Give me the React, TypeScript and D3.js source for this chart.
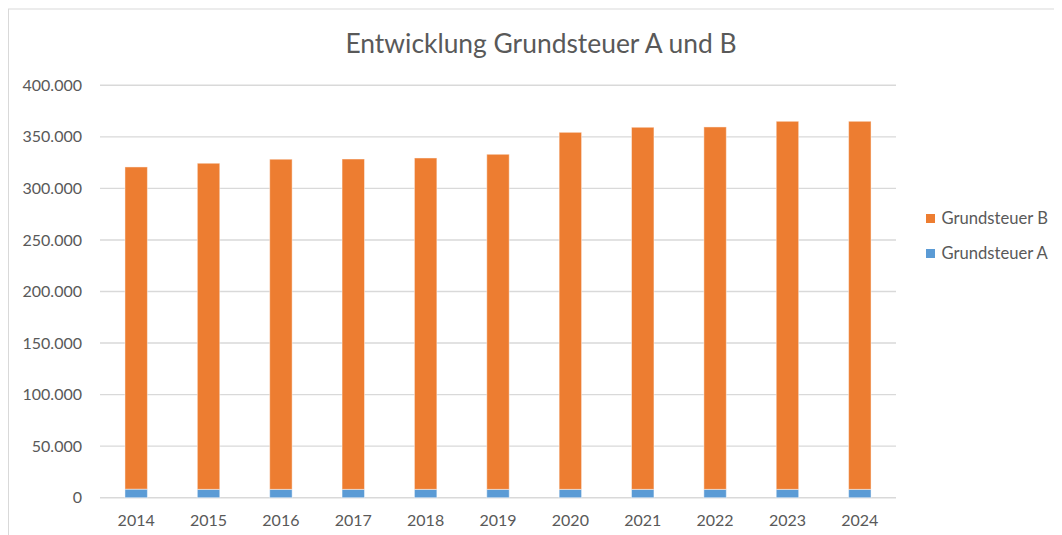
import React from "react";
import * as d3 from "d3";

const years = ["2014", "2015", "2016", "2017", "2018", "2019", "2020", "2021", "2022", "2023", "2024"];
const grundsteuerA = [8300, 8100, 8100, 8100, 8100, 8100, 8100, 8100, 8100, 8100, 8100];
const grundsteuerB = [312500, 316300, 320200, 320400, 321400, 325000, 346300, 351200, 351500, 357000, 357000];
const yTicks = [0, 50000, 100000, 150000, 200000, 250000, 300000, 350000, 400000];
const seriesNames = ["Grundsteuer A", "Grundsteuer B"];
const seriesColors = ["#5B9BD5", "#ED7D31"];

const W = 1046;
const H = 527;
const FONT = "Lato, 'Open Sans', sans-serif";
const TXT = "#595959";

export default function App() {
  const x = d3.scaleBand<string>().domain(years).range([92, 888]).paddingInner(0.69).paddingOuter(0.345);
  const y = d3.scaleLinear().domain([0, 400000]).range([489.7, 77.3]);
  const fmt = (v: number) => d3.format(",")(v).replace(/,/g, ".");

  const rows = years.map((yr, i) => ({ year: yr, A: grundsteuerA[i], B: grundsteuerB[i] }));
  const stacked = d3.stack<any>().keys(["A", "B"])(rows);

  return (
    <>
      <style>{"html,body{overflow:hidden}"}</style>
      <svg width={W} height={H} style={{ display: "block" }}>
        <rect x={0.5} y={1} width={W + 20} height={H + 20} fill="#fff" stroke="#d9d9d9" strokeWidth={1} />
        <text x={533} y={45} textAnchor="middle" fontFamily={FONT} fontSize={26.4} fill={TXT}>
          Entwicklung Grundsteuer A und B
        </text>
        {yTicks.map((t) => (
          <g key={t}>
            <line x1={92} x2={888} y1={y(t)} y2={y(t)} stroke="#d9d9d9" strokeWidth={1.4} />
            <text x={74} y={y(t)} dy="0.35em" textAnchor="end" fontFamily={FONT} fontSize={16} fill={TXT}>
              {fmt(t)}
            </text>
          </g>
        ))}
        {stacked.map((s, si) => (
          <g key={si} fill={seriesColors[si]}>
            {s.map((d, i) => (
              <rect
                key={i}
                x={x(years[i])!}
                width={x.bandwidth()}
                y={y(d[1])}
                height={y(d[0]) - y(d[1])}
                stroke="#fff"
                strokeOpacity={0.45}
                strokeWidth={1}
              />
            ))}
          </g>
        ))}
        {years.map((yr) => (
          <text key={yr} x={x(yr)! + x.bandwidth() / 2} y={512.5} dy="0.35em" textAnchor="middle" fontFamily={FONT} fontSize={16} fill={TXT}>
            {yr}
          </text>
        ))}
        {[1, 0].map((si, li) => (
          <g key={si} transform={`translate(918, ${206 + li * 35})`}>
            <rect x={0} y={0} width={9} height={9} fill={seriesColors[si]} />
            <text x={15.5} y={4.5} dy="0.35em" fontFamily={FONT} fontSize={16.6} fill={TXT}>
              {seriesNames[si]}
            </text>
          </g>
        ))}
      </svg>
    </>
  );
}
